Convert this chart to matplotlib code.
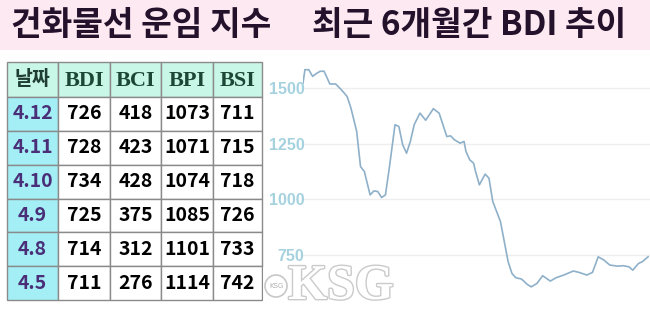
import numpy as np
import matplotlib
matplotlib.use('Agg')
import matplotlib.pyplot as plt
from matplotlib.patches import Rectangle, Circle
import matplotlib.patheffects as pe

KR = ['Noto Sans CJK KR', 'DejaVu Sans']

# title texts
title_left = '건화물선 운임 지수'
title_right = '최근 6개월간 BDI 추이'

# table data
col_names = ['날짜', 'BDI', 'BCI', 'BPI', 'BSI']
dates = ['4.12', '4.11', '4.10', '4.9', '4.8', '4.5']
bdi_t = [726, 728, 734, 725, 714, 711]
bci = [418, 423, 428, 375, 312, 276]
bpi = [1073, 1071, 1074, 1085, 1101, 1114]
bsi = [711, 715, 718, 726, 733, 742]

# BDI over the last 6 months (day offset, index value)
days = [0, 1, 3, 5, 7, 9, 11, 14, 17, 20, 23, 25, 28, 30, 32, 35, 37, 39, 41, 43,
        45, 48, 50, 52, 54, 56, 58, 61, 64, 68, 71, 73, 75, 77, 79, 82, 84, 85, 87, 89,
        90, 92, 95, 97, 99, 103, 105, 107, 109, 111, 114, 117, 119, 122, 125, 129, 132, 136, 141, 144,
        148, 151, 154, 157, 160, 164, 167, 170, 172, 175, 177, 180]
bdi = [1522, 1582, 1582, 1552, 1565, 1575, 1575, 1518, 1518, 1492, 1462, 1410, 1305, 1147, 1125, 1020, 1038, 1035, 1008, 1020,
       1140, 1335, 1327, 1245, 1207, 1260, 1335, 1387, 1355, 1407, 1387, 1335, 1282, 1285, 1267, 1252, 1260, 1215, 1177, 1162,
       1125, 1065, 1113, 1095, 990, 900, 810, 720, 667, 648, 642, 618, 607, 622, 657, 633, 648, 660, 678, 672,
       660, 672, 742, 727, 705, 700, 702, 697, 682, 712, 720, 742]
yticks = [750, 1000, 1250, 1500]

W, H = 650, 310
fig = plt.figure(figsize=(6.5, 3.1), dpi=100)
fig.patch.set_facecolor('white')

# pixel-space background axes for title + table
bg = fig.add_axes([0, 0, 1, 1])
bg.set_xlim(0, W)
bg.set_ylim(H, 0)
bg.axis('off')

bg.add_patch(Rectangle((0, 0), W, 50, facecolor='#fde9f1', edgecolor='none'))
bg.text(11, 25, title_left, family=KR, fontsize=24, fontweight='black',
        color='#24122c', va='center', ha='left')
bg.text(312, 25, title_right, family=KR, fontsize=24, fontweight='black',
        color='#24122c', va='center', ha='left')

# table
col_x = [7, 58, 110, 161, 213, 262]
top, head_h = 62, 35
row_h = (300 - top - head_h) / len(dates)
border = '#8a8a8a'

for j, name in enumerate(col_names):
    x0, x1 = col_x[j], col_x[j + 1]
    bg.add_patch(Rectangle((x0, top), x1 - x0, head_h, facecolor='#c9f7e7',
                           edgecolor=border, lw=1))
    if j == 0:
        bg.text((x0 + x1) / 2, top + head_h / 2, name, family=KR, fontsize=14,
                fontweight='bold', color='#1f3d33', ha='center', va='center')
    else:
        bg.text((x0 + x1) / 2, top + head_h / 2 + 1, name, family='Liberation Serif',
                fontsize=16, fontweight='bold', color='#1c4636', ha='center', va='center')

columns = [bdi_t, bci, bpi, bsi]
for i, d in enumerate(dates):
    y0 = top + head_h + i * row_h
    bg.add_patch(Rectangle((col_x[0], y0), col_x[1] - col_x[0], row_h,
                           facecolor='#a3eff5', edgecolor=border, lw=1))
    bg.text((col_x[0] + col_x[1]) / 2, y0 + row_h / 2, d, family=KR, fontsize=14,
            fontweight='bold', color='#4a2f78', ha='center', va='center')
    for j, vals in enumerate(columns):
        x0, x1 = col_x[j + 1], col_x[j + 2]
        bg.add_patch(Rectangle((x0, y0), x1 - x0, row_h, facecolor='white',
                               edgecolor=border, lw=1))
        bg.text((x0 + x1) / 2, y0 + row_h / 2, str(vals[i]), family=KR,
                fontsize=14, fontweight='bold', color='#000000', ha='center', va='center')

# line chart
ax = fig.add_axes([303 / W, 10 / H, (W - 303) / W, 245 / H])
ax.plot(days, bdi, color='#8eb0c9', lw=1.2, solid_joinstyle='round')
ax.set_xlim(0, 181)
ax.set_ylim(548, 1648)
ax.set_yticks(yticks)
ax.set_yticklabels([str(v) for v in yticks], color='#a6d2e0', fontweight='bold',
                   family='Liberation Sans', fontsize=11.5)
ax.set_xticks([])
ax.tick_params(axis='y', length=0, pad=-1)
ax.grid(axis='y', color='#eeeeee', lw=1)
ax.set_axisbelow(True)
for s in ax.spines.values():
    s.set_visible(False)
ax.patch.set_alpha(0)

# watermark overlay
ov = fig.add_axes([0, 0, 1, 1])
ov.set_xlim(0, W)
ov.set_ylim(H, 0)
ov.axis('off')
ov.add_patch(Rectangle((263, 267), 130, 43, facecolor='white', alpha=0.85, edgecolor='none'))
ov.add_patch(Circle((276, 286), 11, facecolor='white', edgecolor='#c8c8c8', lw=1.2))
ov.text(276, 286, 'KSG', fontsize=5, color='#b0b0b0', ha='center', va='center')
ov.text(341, 287, 'KSG', family='Liberation Serif', fontsize=36, fontweight='bold',
        color='white', ha='center', va='center',
        path_effects=[pe.withStroke(linewidth=2, foreground='#cacaca')])

fig.savefig('out.png', dpi=100)
